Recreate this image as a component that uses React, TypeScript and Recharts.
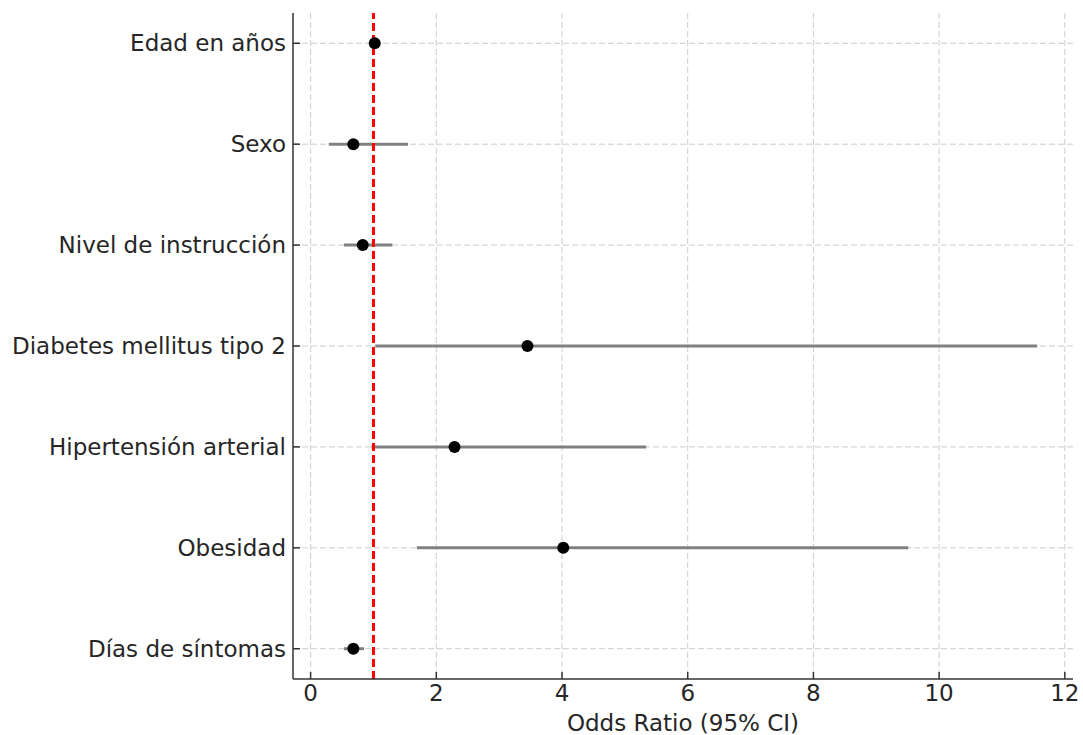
import React from 'react';
import {
  ScatterChart,
  Scatter,
  XAxis,
  YAxis,
  CartesianGrid,
  ReferenceLine,
  ErrorBar,
} from 'recharts';

const variables = [
  'Edad en años',
  'Sexo',
  'Nivel de instrucción',
  'Diabetes mellitus tipo 2',
  'Hipertensión arterial',
  'Obesidad',
  'Días de síntomas',
];
const oddsRatios = [1.02, 0.68, 0.83, 3.45, 2.29, 4.02, 0.68];
const ciLow = [0.99, 0.29, 0.53, 1.03, 0.97, 1.69, 0.53];
const ciHigh = [1.04, 1.55, 1.3, 11.56, 5.34, 9.51, 0.85];
const xTicks = [0, 2, 4, 6, 8, 10, 12];
const yTicks = variables.map((_, i) => i);
const xDomain = [-0.28, 12.13];
const yDomain = [-0.3, 6.3];

const rows = variables.map((name, i) => ({
  name,
  idx: i,
  or: oddsRatios[i],
  err: [oddsRatios[i] - ciLow[i], ciHigh[i] - oddsRatios[i]],
}));

const textColor = '#262626';
const axisColor = '#333333';

const NoDot = () => null;

// grid only at the tick values (no extra lines on the plot edges)
const hLines = ({ offset }: any) =>
  yTicks.map((t) => offset.top + ((t - yDomain[0]) / (yDomain[1] - yDomain[0])) * offset.height);
const vLines = ({ offset }: any) =>
  xTicks.map((t) => offset.left + ((t - xDomain[0]) / (xDomain[1] - xDomain[0])) * offset.width);

export default function App() {
  return (
    <div style={{ width: 1083, height: 735 }}>
      <style>{'body{margin:0}'}</style>
      <ScatterChart
        width={1083}
        height={735}
        margin={{ top: 13, right: 10, left: 0, bottom: 0 }}
        style={{ fontFamily: 'DejaVu Sans' }}
      >
        <CartesianGrid
          stroke="#cccccc"
          strokeDasharray="6 3"
          strokeWidth={1}
          horizontalCoordinatesGenerator={hLines}
          verticalCoordinatesGenerator={vLines}
        />
        <XAxis
          type="number"
          dataKey="or"
          domain={xDomain}
          ticks={xTicks}
          allowDataOverflow
          height={56}
          stroke={axisColor}
          strokeWidth={1.5}
          tickSize={-7}
          tickMargin={13}
          tick={{ fill: textColor, fontSize: 23 }}
          label={{
            value: 'Odds Ratio (95% CI)',
            position: 'insideBottom',
            offset: 4,
            fill: textColor,
            fontSize: 23,
          }}
        />
        <YAxis
          type="number"
          dataKey="idx"
          domain={yDomain}
          ticks={yTicks}
          reversed
          allowDataOverflow
          width={293}
          stroke={axisColor}
          strokeWidth={1.5}
          tickSize={-7}
          tickMargin={14}
          tickFormatter={(v: number) => variables[v] ?? ''}
          tick={{ fill: textColor, fontSize: 23 }}
        />
        <Scatter data={rows} shape={NoDot} isAnimationActive={false}>
          <ErrorBar
            dataKey="err"
            direction="x"
            width={0}
            stroke="#808080"
            strokeWidth={3}
            isAnimationActive={false}
          />
        </Scatter>
        <ReferenceLine
          x={1}
          stroke="#ff0000"
          strokeWidth={3}
          strokeDasharray="8 4"
        />
        <Scatter
          data={rows}
          fill="#000000"
          isAnimationActive={false}
          shape={(p: any) => <circle cx={p.cx} cy={p.cy} r={6} fill="#000000" />}
        />
      </ScatterChart>
    </div>
  );
}
